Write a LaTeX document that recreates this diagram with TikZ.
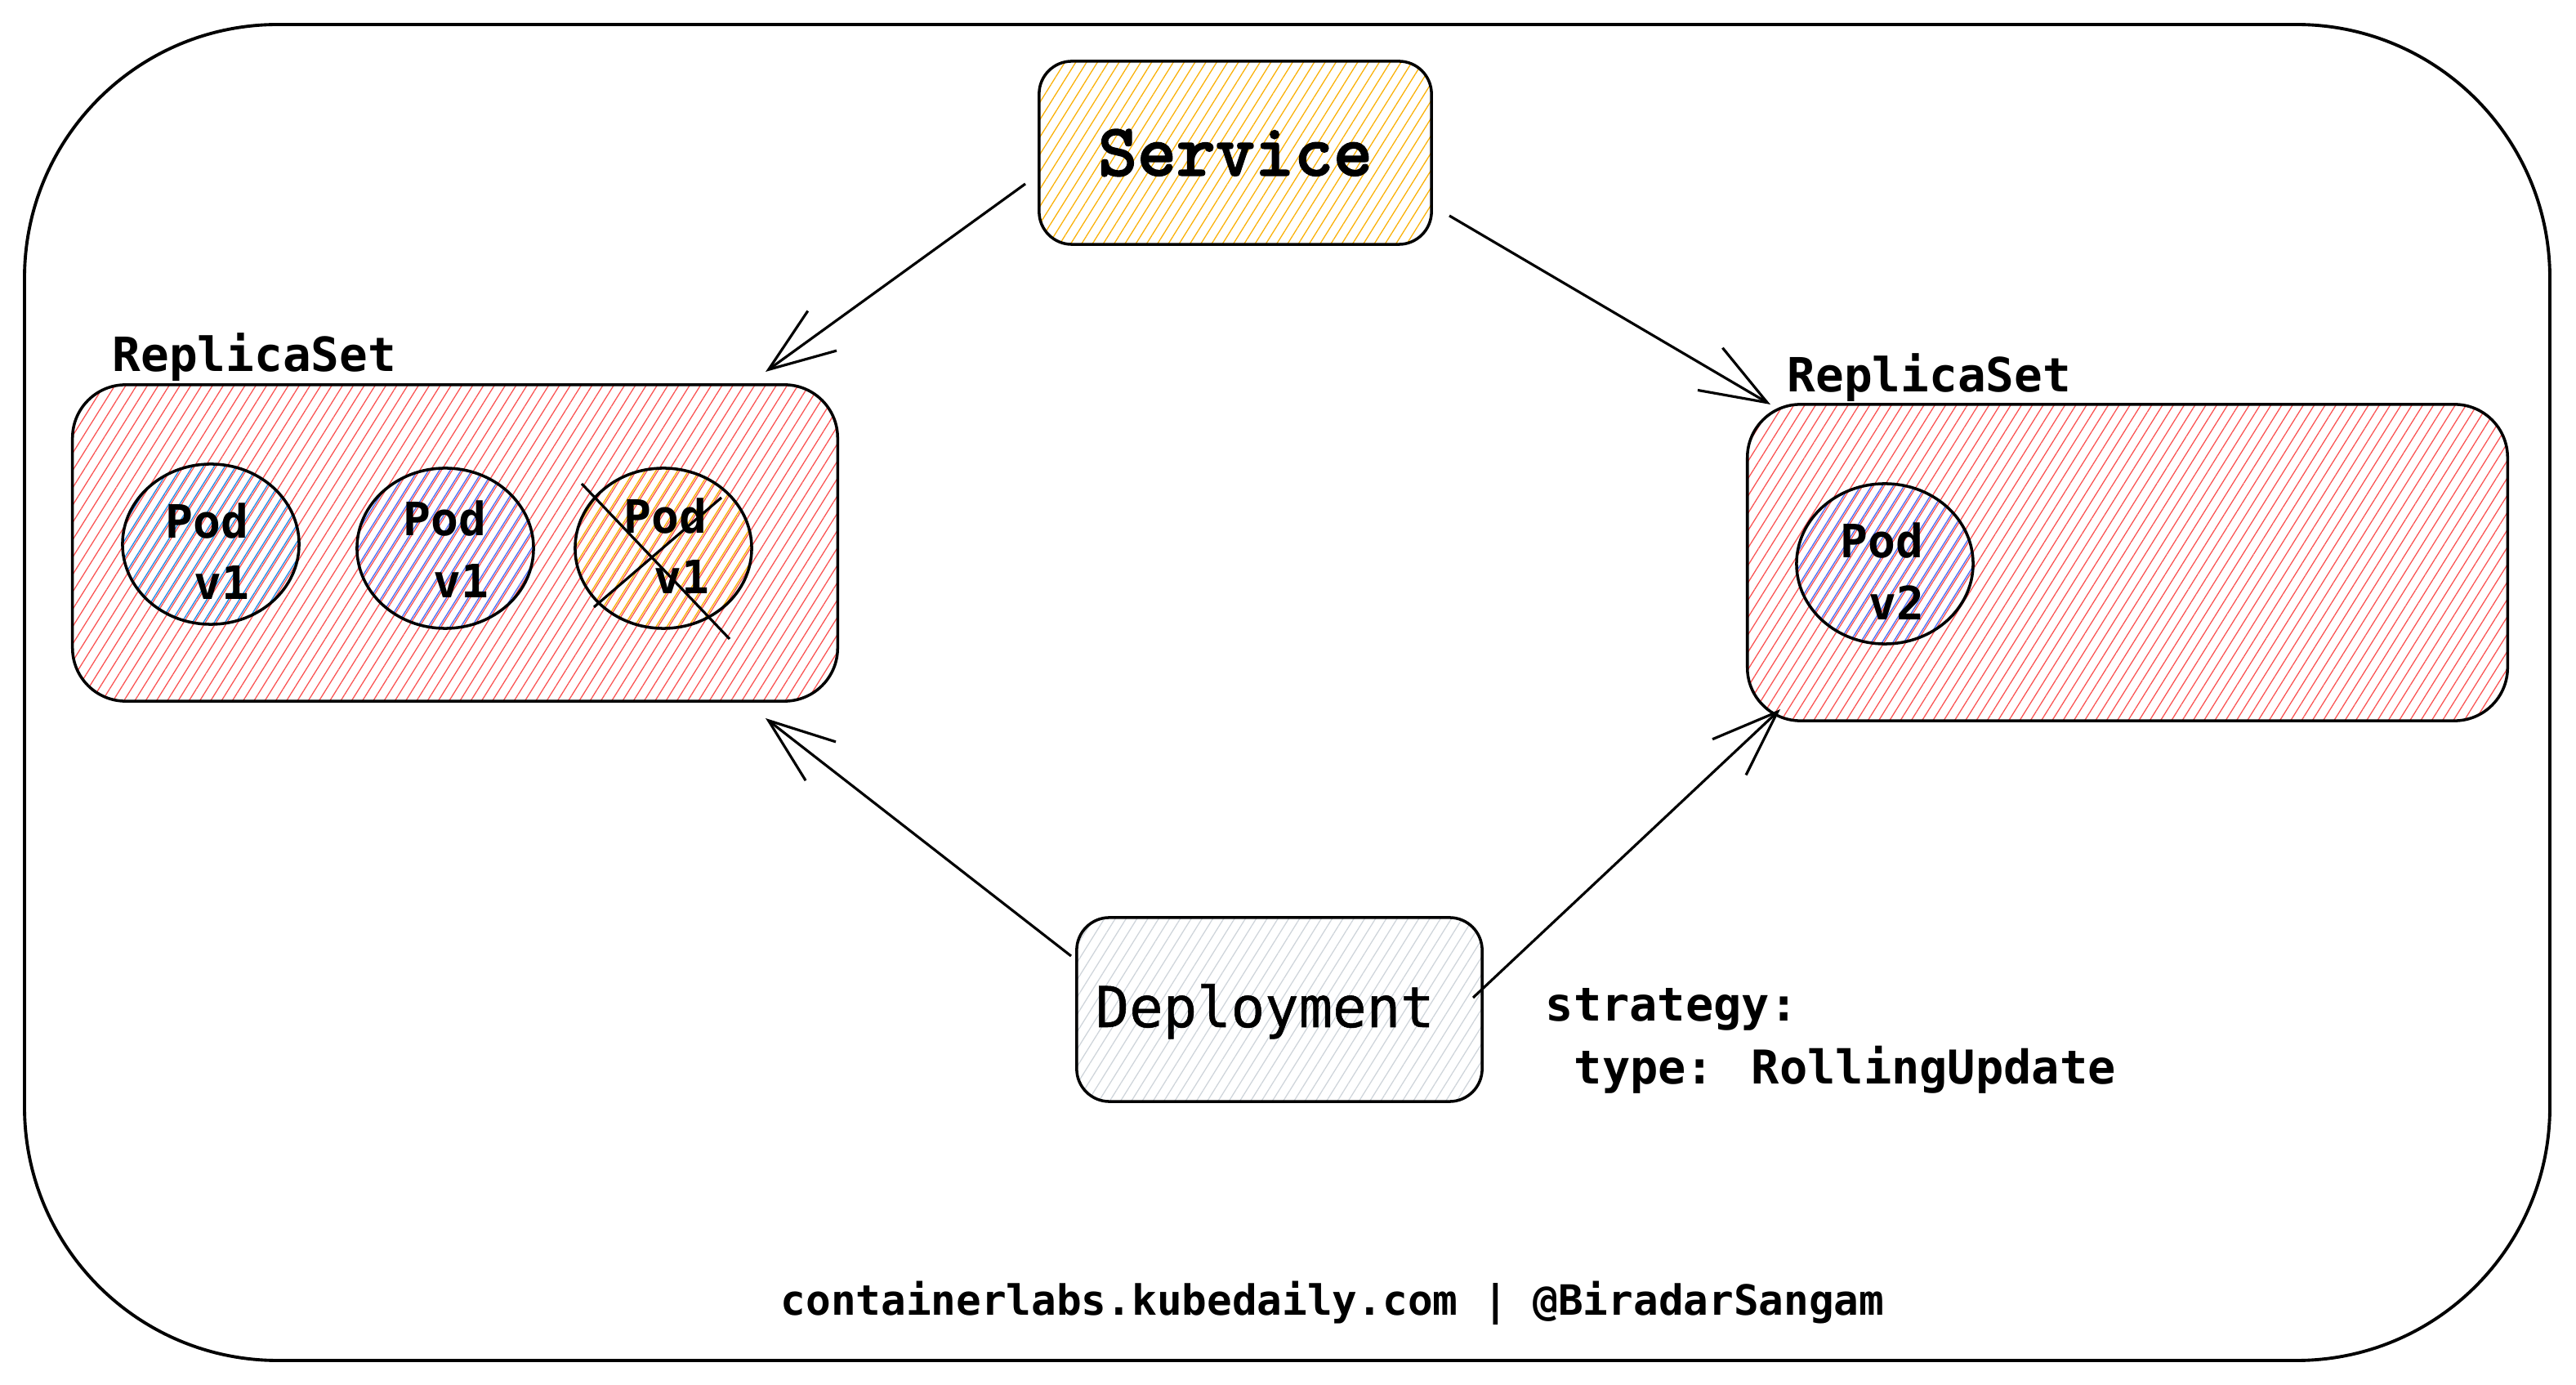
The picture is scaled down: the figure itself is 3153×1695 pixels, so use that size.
\documentclass[tikz,border=0pt]{standalone}
\usepackage{fontspec}
\newfontfamily\monof{DejaVu Sans Mono}
\newfontfamily\depf{DejaVu Sans Mono}[FakeBold=0.8]
\newfontfamily\servf{lmmonolt10-bold.otf}[FakeBold=1.6]
\usetikzlibrary{patterns.meta,arrows.meta,shapes.geometric,calc}
\definecolor{hred}{HTML}{FA5252}
\definecolor{hblue}{HTML}{228BE6}
\definecolor{hindigo}{HTML}{4C6EF5}
\definecolor{horange}{HTML}{FAB005}
\definecolor{hyellow}{HTML}{FAB005}
\definecolor{hgray}{HTML}{CED4DA}
\tikzset{
  hatch/.style={pattern={Lines[angle=58,distance=3.2pt,line width=0.36pt]},pattern color=#1},
  hatchb/.style={pattern={Lines[angle=58,distance=3.2pt,line width=0.38pt,yshift=1.1pt]},pattern color=#1},
  boxs/.style={draw=black,line width=1pt,rectangle,inner sep=0pt,outer sep=0pt},
  podshape/.style={draw=black,line width=1pt,ellipse,inner sep=0pt,outer sep=0pt,minimum width=2.16cm,minimum height=1.96cm},
  podtxt/.style={anchor=base west,inner sep=0pt,font=\monof\bfseries\fontsize{16}{19}\selectfont},
  rslabel/.style={anchor=base west,inner sep=0pt,font=\monof\bfseries\fontsize{16.4}{19}\selectfont},
  conn/.style={line width=0.9pt,-{Straight Barb[length=0.81cm,width=0.6cm,line width=0.9pt]}},
  strike/.style={line width=0.9pt}
}
\begin{document}
\begin{tikzpicture}[x=0.01cm,y=-0.01cm]
\useasboundingbox (0,0) rectangle (3153,1695);
% outer frame
\draw[line width=1.1pt,rounded corners=3.1cm] (30,30) rectangle (3121,1665);

% Service
\node[boxs,hatch=hyellow,rounded corners=0.4cm,minimum width=4.8cm,minimum height=2.24cm,
      font=\servf\fontsize{26}{30}\selectfont] (svc) at (1512,187) {Service};

% ReplicaSets
\node[boxs,hatch=hred,rounded corners=0.65cm,minimum width=9.36cm,minimum height=3.87cm] (rs1) at (557,664.5) {};
\node[rslabel] (rs1l) at (137,455) {ReplicaSet};
\node[boxs,hatch=hred,rounded corners=0.65cm,minimum width=9.30cm,minimum height=3.87cm] (rs2) at (2604,688.5) {};
\node[rslabel] (rs2l) at (2187,480) {ReplicaSet};

% Pods
\node[podshape,hatchb=hblue] (p1) at (258,666) {};
\node[podtxt] (p1a) at (202,659) {Pod};
\node[podtxt] (p1b) at (237,734) {v1};

\node[podshape,hatchb=hindigo] (p2) at (545,671) {};
\node[podtxt] (p2a) at (493,656) {Pod};
\node[podtxt] (p2b) at (530,732) {v1};

\node[podshape,hatchb=horange] (p3) at (812,671) {};
\node[podtxt] (p3a) at (763,653) {Pod};
\node[podtxt] (p3b) at (800,727) {v1};
\coordinate (x1a) at (712,592);
\coordinate (x1b) at (893,782);
\coordinate (x2a) at (883,609);
\coordinate (x2b) at (727,743);
\draw[strike] (x1a) -- (x1b);
\draw[strike] (x2a) -- (x2b);

\node[podshape,hatchb=hindigo] (p4) at (2307,690) {};
\node[podtxt] (p4a) at (2252,683) {Pod};
\node[podtxt] (p4b) at (2287,759) {v2};

% Deployment
\node[boxs,hatch=hgray,rounded corners=0.4cm,minimum width=4.96cm,minimum height=2.25cm] (dep) at (1566,1235.5) {};
\node[anchor=base west,inner sep=0pt,font=\depf\fontsize{19.6}{23}\selectfont] (depl) at (1340,1257) {Deployment};

% strategy text
\node[rslabel,font=\monof\bfseries\fontsize{16.2}{20}\selectfont] (st1) at (1891,1250) {strategy:};
\node[rslabel,font=\monof\bfseries\fontsize{16.2}{20}\selectfont] (st2) at (1926,1327) {type: RollingUpdate};

% footer
\node[inner sep=0pt,font=\monof\bfseries\fontsize{14.5}{17}\selectfont] (foot) at (1631,1595) {containerlabs.kubedaily.com | @BiradarSangam};

% connectors
\coordinate (a1s) at (1255,225);
\coordinate (a1e) at (937,455);
\coordinate (a2s) at (1774,264);
\coordinate (a2e) at (2167,495);
\coordinate (a3s) at (1311,1170);
\coordinate (a3e) at (937,879);
\coordinate (a4s) at (1803,1221);
\coordinate (a4e) at (2179,868);
\draw[conn] (a1s) -- (a1e);
\draw[conn] (a2s) -- (a2e);
\draw[conn] (a3s) -- (a3e);
\draw[conn] (a4s) -- (a4e);
\end{tikzpicture}
\end{document}
